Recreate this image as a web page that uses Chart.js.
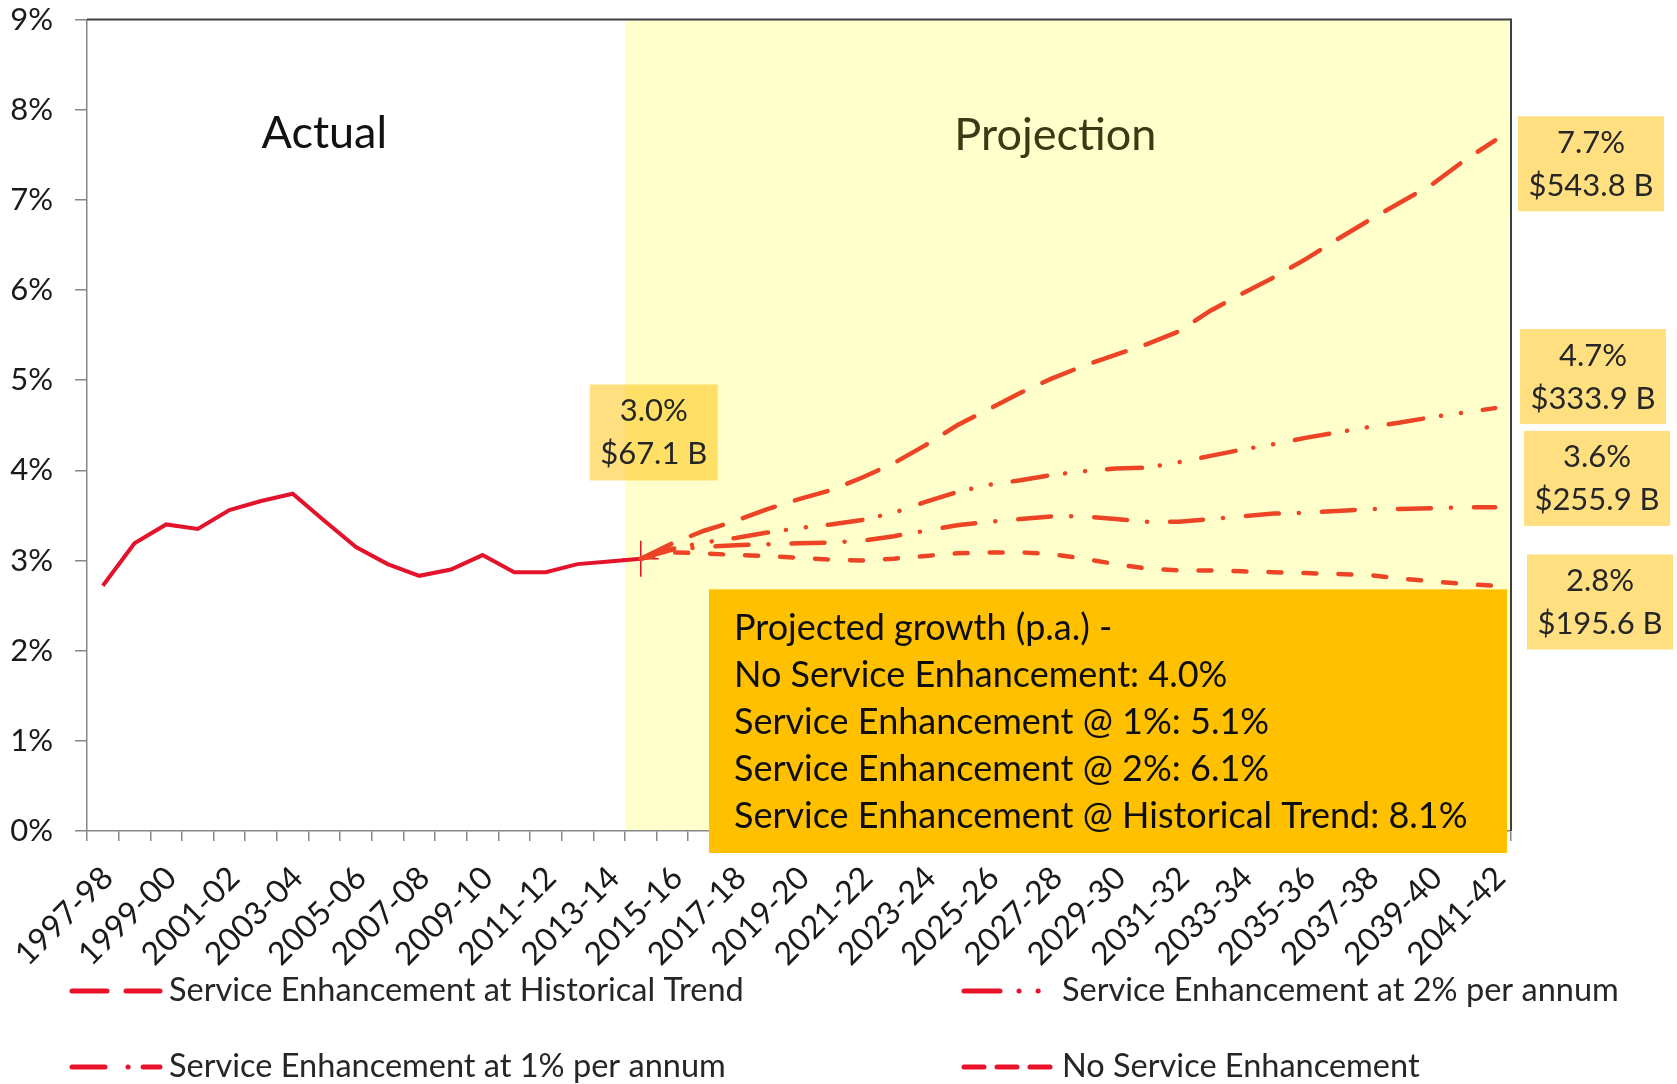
<!DOCTYPE html>
<html>
<head>
<meta charset="utf-8">
<script src="https://cdn.jsdelivr.net/npm/chart.js@4"></script>
<style>
  html, body { margin: 0; padding: 0; background: #ffffff; }
  canvas { display: block; }
</style>
</head>
<body>
<canvas id="grafico" width="1677" height="1084"></canvas>
<script>
// Categorias (anos fiscais)
const categories = [
  "1997-98", "1998-99", "1999-00", "2000-01", "2001-02", "2002-03", "2003-04", "2004-05",
  "2005-06", "2006-07", "2007-08", "2008-09", "2009-10", "2010-11", "2011-12", "2012-13",
  "2013-14", "2014-15", "2015-16", "2016-17", "2017-18", "2018-19", "2019-20", "2020-21",
  "2021-22", "2022-23", "2023-24", "2024-25", "2025-26", "2026-27", "2027-28", "2028-29",
  "2029-30", "2030-31", "2031-32", "2032-33", "2033-34", "2034-35", "2035-36", "2036-37",
  "2037-38", "2038-39", "2039-40", "2040-41", "2041-42"
];

// Série real, 1997-98 a 2014-15 (%)
const actual = [2.72, 3.19, 3.40, 3.35, 3.56, 3.66, 3.74, 3.44, 3.15, 2.96,
                2.83, 2.90, 3.06, 2.87, 2.87, 2.96, 2.99, 3.02];

// Projeções, 2014-15 a 2041-42 (%)
const projHistorical = [3.02, 3.19, 3.33, 3.44, 3.57, 3.68, 3.78, 3.92, 4.08, 4.28,
                        4.50, 4.68, 4.86, 5.02, 5.16, 5.28, 5.40, 5.54, 5.77, 5.96,
                        6.14, 6.34, 6.56, 6.77, 6.97, 7.17, 7.43, 7.66];
const proj2pct = [3.02, 3.13, 3.20, 3.25, 3.31, 3.36, 3.40, 3.45, 3.53, 3.65,
                  3.76, 3.84, 3.89, 3.95, 3.99, 4.02, 4.03, 4.09, 4.16, 4.23,
                  4.29, 4.36, 4.42, 4.48, 4.53, 4.59, 4.64, 4.69];
const proj1pct = [3.02, 3.12, 3.15, 3.17, 3.18, 3.19, 3.20, 3.22, 3.27, 3.33,
                  3.39, 3.43, 3.46, 3.49, 3.49, 3.46, 3.43, 3.43, 3.46, 3.49,
                  3.52, 3.53, 3.55, 3.57, 3.57, 3.58, 3.59, 3.59];
const projNone = [3.02, 3.09, 3.08, 3.06, 3.05, 3.03, 3.01, 3.00, 3.02, 3.05,
                  3.08, 3.09, 3.09, 3.07, 3.02, 2.96, 2.91, 2.89, 2.89, 2.88,
                  2.87, 2.86, 2.85, 2.84, 2.80, 2.77, 2.74, 2.72];

// Rótulos do eixo Y
const yTicks = [0, 1, 2, 3, 4, 5, 6, 7, 8, 9];

// Legenda
const legendLabels = [
  "Service Enhancement at Historical Trend",
  "Service Enhancement at 2% per annum",
  "Service Enhancement at 1% per annum",
  "No Service Enhancement"
];

// Caixas de valores finais
const startBox = ["3.0%", "$67.1 B"];
const endBoxes = [
  ["7.7%", "$543.8 B"],
  ["4.7%", "$333.9 B"],
  ["3.6%", "$255.9 B"],
  ["2.8%", "$195.6 B"]
];
const growthText = [
  "Projected growth (p.a.) -",
  "No Service Enhancement: 4.0%",
  "Service Enhancement @ 1%: 5.1%",
  "Service Enhancement @ 2%: 6.1%",
  "Service Enhancement @ Historical Trend: 8.1%"
];

const projStart = actual.length - 1;
const pad = arr => Array(projStart).fill(null).concat(arr);

const FONT = "Lato";
const RED = "#E3132C";
const ORANGE_RED = "#EC4425";

// Padrões de traço
const dashHist = [34, 21];
const dash2pct = [35, 18, 0.1, 20, 0.1, 22];
const dash1pct = [33, 20, 0.1, 23];
const dashNone = [13, 22];
const dashLegend = [[35, 19], [36, 19, 0.1, 19, 0.1, 60], [33, 23, 0.1, 15, 33, 40], [20, 13]];

// Desenho: sombra da projeção, moldura, caixas, legenda
const decor = {
  id: 'decor',
  beforeDatasetsDraw(chart) {
    const { ctx, chartArea: a, scales: { x, y } } = chart;
    const half = (x.getPixelForValue(1) - x.getPixelForValue(0)) / 2;
    const x0 = x.getPixelForValue(projStart) - half;
    ctx.save();
    ctx.fillStyle = "#FFFFCC";
    ctx.fillRect(x0, a.top, a.right - x0, a.bottom - a.top - 1);

    // moldura superior e direita
    ctx.strokeStyle = "#3f3f3f";
    ctx.lineWidth = 2;
    ctx.beginPath();
    ctx.moveTo(a.left, a.top);
    ctx.lineTo(a.right, a.top);
    ctx.lineTo(a.right, a.bottom);
    ctx.stroke();

    ctx.textAlign = "center";
    ctx.textBaseline = "alphabetic";
    ctx.font = "45px " + FONT;
    ctx.fillStyle = "#111111";
    ctx.fillText("Actual", x.getPixelForValue(7), y.getPixelForValue(7.57));
    ctx.fillStyle = "#3a3a14";
    ctx.fillText("Projection", x.getPixelForValue(30.1), y.getPixelForValue(7.55));
    ctx.restore();
  },
  afterDraw(chart) {
    const { ctx, chartArea: a, scales: { x, y } } = chart;
    ctx.save();

    function smallBox(lines, cx, cy, w, h) {
      ctx.fillStyle = "rgba(255, 192, 0, 0.5)";
      ctx.fillRect(cx - w / 2, cy - h / 2, w, h);
      ctx.fillStyle = "#262626";
      ctx.font = "31px " + FONT;
      ctx.textAlign = "center";
      ctx.textBaseline = "middle";
      ctx.fillText(lines[0], cx, cy - 21);
      ctx.fillText(lines[1], cx, cy + 22);
    }

    smallBox(startBox, x.getPixelForValue(projStart) + 13, y.getPixelForValue(4.42), 128, 96);
    const endCenters = [7.40, 5.04, 3.91, 2.54];
    const endShift = [80, 82, 86, 89];
    endBoxes.forEach((b, i) => {
      smallBox(b, a.right + endShift[i], y.getPixelForValue(endCenters[i]), 146, 95);
    });

    // caixa laranja com o crescimento projetado
    const bx = a.left + 622, by = y.getPixelForValue(2.68);
    ctx.fillStyle = "#FFC000";
    ctx.fillRect(bx, by, a.right - 4 - bx, a.bottom + 22 - by);
    ctx.fillStyle = "#0d0d0d";
    ctx.font = "36px " + FONT;
    ctx.textAlign = "left";
    ctx.textBaseline = "middle";
    growthText.forEach((t, i) => ctx.fillText(t, bx + 25, by + 39 + i * 47));

    // legenda em duas colunas
    const legendItems = [
      { dash: dashLegend[0], x1: 72, x2: 160, tx: 169, ty: 991 },
      { dash: dashLegend[1], x1: 964, x2: 1040, tx: 1062, ty: 991 },
      { dash: dashLegend[2], x1: 72, x2: 160, tx: 169, ty: 1067 },
      { dash: dashLegend[3], x1: 964, x2: 1050, tx: 1062, ty: 1067 }
    ];
    legendItems.forEach((it, i) => {
      ctx.strokeStyle = "#E8132B";
      ctx.lineWidth = 5;
      ctx.lineCap = "round";
      ctx.setLineDash(it.dash);
      ctx.beginPath();
      ctx.moveTo(it.x1, it.ty);
      ctx.lineTo(it.x2, it.ty);
      ctx.stroke();
      ctx.setLineDash([]);
      ctx.fillStyle = "#262626";
      ctx.font = "32.5px " + FONT;
      ctx.textAlign = "left";
      ctx.textBaseline = "middle";
      ctx.fillText(legendLabels[i], it.tx, it.ty);
    });
    ctx.restore();
  }
};

function projDataset(label, data, dash) {
  return {
    label: label,
    data: pad(data),
    borderColor: ORANGE_RED,
    borderWidth: 4.5,
    borderDash: dash,
    borderCapStyle: "round",
    pointRadius: 0,
    tension: 0,
    spanGaps: false
  };
}

const ctx = document.getElementById('grafico').getContext('2d');

const grafico = new Chart(ctx, {
  type: 'line',
  data: {
    labels: categories,
    datasets: [
      projDataset(legendLabels[3], projNone, dashNone),
      projDataset(legendLabels[2], proj1pct, dash1pct),
      projDataset(legendLabels[1], proj2pct, dash2pct),
      projDataset(legendLabels[0], projHistorical, dashHist),
      {
        label: "Actual",
        data: actual,
        borderColor: RED,
        borderWidth: 4,
        pointStyle: "cross",
        pointRadius: c => c.dataIndex === projStart ? 18 : 0,
        pointBorderColor: RED,
        pointBorderWidth: 1.5,
        tension: 0
      }
    ]
  },
  options: {
    responsive: false,
    animation: false,
    layout: { padding: { left: 0, right: 166, top: 18, bottom: 0 } },
    plugins: {
      legend: { display: false },
      tooltip: { enabled: false }
    },
    scales: {
      x: {
        offset: true,
        grid: { offset: true, drawOnChartArea: false, tickLength: 10, color: "#868686", lineWidth: 1.5 },
        border: { color: "#868686", width: 1.5 },
        ticks: {
          autoSkip: false,
          minRotation: 45,
          maxRotation: 45,
          padding: 18,
          labelOffset: 5,
          color: "#1a1a1a",
          font: { family: FONT, size: 32 },
          callback: (v, i) => i % 2 === 0 ? categories[i] : ""
        },
        afterFit: s => { s.height = 253; s.paddingLeft = 0; s.paddingRight = 0; }
      },
      y: {
        min: yTicks[0],
        max: yTicks[yTicks.length - 1],
        afterBuildTicks: s => { s.ticks = yTicks.map(v => ({ value: v })); },
        grid: { drawOnChartArea: false, tickLength: 12, color: "#868686", lineWidth: 1.5 },
        border: { color: "#868686", width: 1.5 },
        ticks: {
          padding: 22,
          color: "#1a1a1a",
          font: { family: FONT, size: 31 },
          callback: v => v + "%"
        },
        afterFit: s => { s.width = 87; s.paddingTop = 0; s.paddingBottom = 0; }
      }
    }
  },
  plugins: [decor]
});
</script>
</body>
</html>
